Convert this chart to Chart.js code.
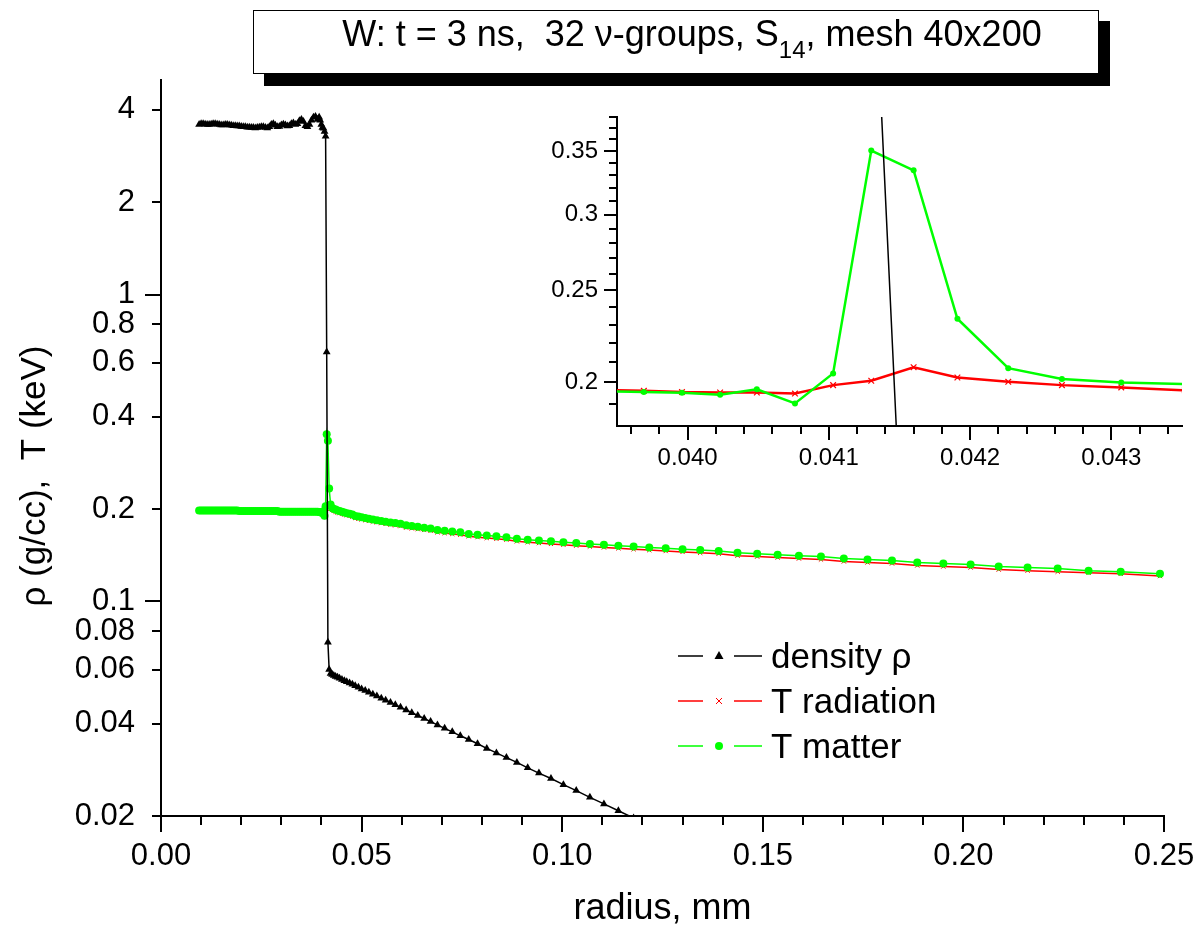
<!DOCTYPE html>
<html>
<head>
<meta charset="utf-8">
<style>
  html, body { margin: 0; padding: 0; background: #fff; }
  #wrap { position: relative; width: 1199px; height: 932px; }
  #mainChart { position: absolute; left: 0; top: 0; }
  #insetChart { position: absolute; left: 540px; top: 100px; }
</style>
</head>
<body>
<div id="wrap">
  <canvas id="mainChart" width="1199" height="932"></canvas>
  <canvas id="insetChart" width="659" height="380"></canvas>
</div>
<script src="https://cdn.jsdelivr.net/npm/chart.js"></script>
<script>
// radial mesh (mm)
const radius = [
  0.0095, 0.0100, 0.0105, 0.0110, 0.0115, 0.0120, 0.0125, 0.0130, 0.0135, 0.0140,
  0.0145, 0.0150, 0.0155, 0.0160, 0.0165, 0.0170, 0.0175, 0.0180, 0.0185, 0.0190,
  0.0195, 0.0200, 0.0205, 0.0210, 0.0215, 0.0220, 0.0225, 0.0230, 0.0235, 0.0240,
  0.0245, 0.0250, 0.0255, 0.0260, 0.0265, 0.0270, 0.0275, 0.0280, 0.0285, 0.0290,
  0.0295, 0.0300, 0.0305, 0.0310, 0.0315, 0.0320, 0.0325, 0.0330, 0.0335, 0.0340,
  0.0345, 0.0350, 0.0355, 0.0360, 0.0365, 0.0370, 0.0375, 0.0380, 0.0385, 0.0390,
  0.03942, 0.03969, 0.03996, 0.04023, 0.04049, 0.04076, 0.04103, 0.04130, 0.04160, 0.04191,
  0.04227, 0.04265, 0.04307, 0.04352,
  0.0440, 0.0445, 0.0451, 0.0457, 0.0463, 0.0470, 0.0477, 0.0484, 0.0492, 0.0500,
  0.0509, 0.0518, 0.0528, 0.0538, 0.0549, 0.0560, 0.0572, 0.0584, 0.0597, 0.0611,
  0.0625, 0.0640, 0.0656, 0.0672, 0.0689, 0.0707, 0.0726, 0.0746, 0.0767, 0.0789,
  0.0812, 0.0836, 0.0861, 0.0887, 0.0914, 0.0942, 0.0972, 0.1003, 0.1035, 0.1069,
  0.1104, 0.1140, 0.1178,
  0.1217, 0.1258, 0.1300, 0.1344, 0.1390, 0.1437, 0.1486, 0.1537, 0.1590, 0.1645,
  0.1702, 0.1761, 0.1822, 0.1885, 0.1950, 0.2018, 0.2088, 0.2160, 0.2235, 0.2312,
  0.2392, 0.2490
];

// density (g/cc) - stops where it leaves the axis at 0.02
const density = [
  3.58, 3.60, 3.60, 3.59, 3.58, 3.58, 3.59, 3.60, 3.60, 3.59,
  3.58, 3.57, 3.57, 3.58, 3.58, 3.57, 3.56, 3.55, 3.55, 3.54,
  3.54, 3.53, 3.52, 3.52, 3.51, 3.51, 3.50, 3.50, 3.49, 3.50,
  3.51, 3.52, 3.52, 3.50, 3.49, 3.52, 3.58, 3.60, 3.56, 3.52,
  3.53, 3.57, 3.59, 3.57, 3.54, 3.55, 3.60, 3.62, 3.58, 3.60,
  3.68, 3.72, 3.66, 3.55, 3.52, 3.58, 3.70, 3.78, 3.80, 3.72,
  3.78, 3.70, 3.58, 3.50, 3.48, 3.40, 3.28, 0.65, 0.0737, 0.0600,
  0.0582, 0.0578, 0.0574, 0.0570,
  0.0566, 0.0562, 0.0557, 0.0552, 0.0548, 0.0542, 0.0537, 0.0531, 0.0525, 0.0519,
  0.0513, 0.0506, 0.0499, 0.0492, 0.0484, 0.0477, 0.0469, 0.0461, 0.0452, 0.0443,
  0.0434, 0.0425, 0.0416, 0.0406, 0.0396, 0.0386, 0.0376, 0.0365, 0.0355, 0.0344,
  0.0332, 0.0321, 0.0310, 0.0299, 0.0287, 0.0276, 0.0265, 0.0253, 0.0242, 0.0230,
  0.0219, 0.0208, 0.0197
];

// radiation temperature (keV)
const tRadiation = [
  0.197, 0.197, 0.197, 0.197, 0.197, 0.197, 0.197, 0.197, 0.197, 0.197,
  0.197, 0.197, 0.197, 0.197, 0.197, 0.197, 0.197, 0.197, 0.197, 0.197,
  0.197, 0.197, 0.197, 0.197, 0.197, 0.197, 0.197, 0.197, 0.197, 0.197,
  0.197, 0.197, 0.197, 0.197, 0.197, 0.197, 0.197, 0.197, 0.197, 0.197,
  0.196, 0.196, 0.196, 0.196, 0.196, 0.196, 0.196, 0.196, 0.196, 0.196,
  0.196, 0.196, 0.196, 0.196, 0.196, 0.196, 0.196, 0.196, 0.196, 0.196,
  0.1963, 0.1960, 0.1954, 0.1952, 0.1952, 0.1947, 0.1987, 0.2008, 0.2075, 0.2024,
  0.2003, 0.1987, 0.1976, 0.1962,
  0.195, 0.194, 0.193, 0.192, 0.191, 0.190, 0.189, 0.187, 0.186, 0.185,
  0.184, 0.183, 0.182, 0.181, 0.180, 0.179, 0.178, 0.177, 0.176, 0.174,
  0.173, 0.172, 0.171, 0.170, 0.168, 0.167, 0.166, 0.165, 0.163, 0.162,
  0.161, 0.160, 0.159, 0.157, 0.156, 0.155, 0.154, 0.153, 0.152, 0.151,
  0.150, 0.149, 0.148,
  0.147, 0.146, 0.145, 0.144, 0.143, 0.141, 0.140, 0.139, 0.138, 0.137,
  0.135, 0.134, 0.133, 0.131, 0.130, 0.129, 0.127, 0.126, 0.125, 0.124,
  0.123, 0.121
];

// matter temperature (keV)
const tMatter = [
  0.198, 0.198, 0.198, 0.198, 0.198, 0.198, 0.198, 0.198, 0.198, 0.198,
  0.198, 0.198, 0.198, 0.198, 0.198, 0.198, 0.198, 0.198, 0.198, 0.198,
  0.197, 0.197, 0.197, 0.197, 0.197, 0.197, 0.197, 0.197, 0.197, 0.197,
  0.197, 0.197, 0.197, 0.197, 0.197, 0.197, 0.197, 0.197, 0.197, 0.197,
  0.196, 0.196, 0.196, 0.196, 0.196, 0.196, 0.196, 0.196, 0.196, 0.196,
  0.196, 0.196, 0.196, 0.196, 0.196, 0.196, 0.196, 0.196, 0.196, 0.196,
  0.1958, 0.1954, 0.1951, 0.1941, 0.1967, 0.1901, 0.2044, 0.3504, 0.3340, 0.2333,
  0.2070, 0.2017, 0.2000, 0.1992,
  0.198, 0.197, 0.196, 0.195, 0.194, 0.193, 0.192, 0.190, 0.189, 0.188,
  0.187, 0.186, 0.185, 0.184, 0.183, 0.182, 0.181, 0.180, 0.179, 0.177,
  0.176, 0.175, 0.174, 0.173, 0.171, 0.170, 0.169, 0.168, 0.166, 0.165,
  0.164, 0.163, 0.162, 0.160, 0.159, 0.158, 0.157, 0.156, 0.155, 0.154,
  0.153, 0.152, 0.151,
  0.150, 0.149, 0.148, 0.147, 0.146, 0.144, 0.143, 0.142, 0.141, 0.140,
  0.138, 0.137, 0.136, 0.134, 0.133, 0.132, 0.130, 0.129, 0.128, 0.126,
  0.125, 0.123
];

// axis ticks
const xTickValues = [0, 0.05, 0.10, 0.15, 0.20, 0.25];
const xMinorTicks = [0.01, 0.02, 0.03, 0.04, 0.06, 0.07, 0.08, 0.09, 0.11, 0.12,
                     0.13, 0.14, 0.16, 0.17, 0.18, 0.19, 0.21, 0.22, 0.23, 0.24];
const yTickValues = [0.02, 0.04, 0.06, 0.08, 0.1, 0.2, 0.4, 0.6, 0.8, 1, 2, 4];
const yMajorMarks = [0.1, 1];
const yMinorMarks = [0.02, 0.04, 0.06, 0.08, 0.2, 0.4, 0.6, 0.8, 2, 4];

const insetXTickValues = [0.040, 0.041, 0.042, 0.043];
const insetXMinor = [0.0396, 0.0398, 0.0402, 0.0404, 0.0406, 0.0408, 0.0412, 0.0414,
                     0.0416, 0.0418, 0.0422, 0.0424, 0.0426, 0.0428, 0.0432, 0.0434];
const insetYTickValues = [0.2, 0.25, 0.3, 0.35];
const insetYMinor = [0.19, 0.21, 0.22, 0.23, 0.24, 0.26, 0.27, 0.28, 0.29, 0.31,
                     0.32, 0.33, 0.34, 0.36, 0.37, 0.38];

const FONT = '"Liberation Sans", Arial, sans-serif';

function series(ys) {
  return ys.map((y, i) => ({ x: radius[i], y: y }));
}

// chart.js reserves room for edge labels; the frame here is fixed
function noEdgePad(s) {
  s.paddingLeft = 0; s.paddingRight = 0;
  s.paddingTop = 0; s.paddingBottom = 0;
}

// outward tick marks, long for major, short for minor
const tickMarks = {
  id: 'tickMarks',
  afterDraw(chart, args, opts) {
    const ctx = chart.ctx;
    ctx.save();
    ctx.strokeStyle = '#000';
    ctx.lineWidth = opts.width;
    opts.axes.forEach(a => {
      const s = chart.scales[a.id];
      const mark = (v, len) => {
        const p = Math.round(s.getPixelForValue(v));
        ctx.beginPath();
        if (s.isHorizontal()) {
          ctx.moveTo(p, s.top);
          ctx.lineTo(p, s.top + len);
        } else {
          ctx.moveTo(s.right, p);
          ctx.lineTo(s.right - len, p);
        }
        ctx.stroke();
      };
      a.major.forEach(v => mark(v, a.majorLen));
      a.minor.forEach(v => mark(v, a.minorLen));
    });
    ctx.restore();
  }
};

function drawMarker(ctx, style, x, y, color) {
  ctx.fillStyle = color;
  ctx.strokeStyle = color;
  ctx.beginPath();
  if (style === 'triangle') {
    ctx.moveTo(x, y - 5);
    ctx.lineTo(x + 4.5, y + 3);
    ctx.lineTo(x - 4.5, y + 3);
    ctx.closePath();
    ctx.fill();
  } else if (style === 'crossRot') {
    ctx.lineWidth = 1;
    ctx.moveTo(x - 3, y - 3); ctx.lineTo(x + 3, y + 3);
    ctx.moveTo(x + 3, y - 3); ctx.lineTo(x - 3, y + 3);
    ctx.stroke();
  } else {
    ctx.arc(x, y, 4, 0, Math.PI * 2);
    ctx.fill();
  }
}

// title box, y title and legend
const decor = {
  id: 'decor',
  afterDraw(chart) {
    const ctx = chart.ctx;
    ctx.save();

    ctx.fillStyle = '#000';
    ctx.fillRect(264, 21, 846, 65);
    ctx.fillStyle = '#fff';
    ctx.fillRect(253, 10, 846, 64);
    ctx.strokeStyle = '#000';
    ctx.lineWidth = 1;
    ctx.strokeRect(253.5, 10.5, 845, 63);

    const big = '36px ' + FONT;
    const small = '24px ' + FONT;
    const p1 = 'W: t = 3 ns,  32 \u03BD-groups, S', sub = '14', p2 = ', mesh 40x200';
    ctx.font = big;
    const w1 = ctx.measureText(p1).width, w3 = ctx.measureText(p2).width;
    ctx.font = small;
    const w2 = ctx.measureText(sub).width;
    let tx = 692 - (w1 + w2 + w3) / 2;
    const base = 46;
    ctx.fillStyle = '#000';
    ctx.textBaseline = 'alphabetic';
    ctx.textAlign = 'left';
    ctx.font = big; ctx.fillText(p1, tx, base); tx += w1;
    ctx.font = small; ctx.fillText(sub, tx, base + 12); tx += w2;
    ctx.font = big; ctx.fillText(p2, tx, base);

    ctx.save();
    ctx.translate(35, 476);
    ctx.rotate(-Math.PI / 2);
    ctx.font = '35px ' + FONT;
    ctx.textAlign = 'center';
    ctx.textBaseline = 'middle';
    ctx.fillText('\u03C1 (g/cc),  T (keV)', 0, 0);
    ctx.restore();

    const rows = [656, 701, 746];
    const legendOrder = [0, 2, 1];
    legendOrder.forEach((di, k) => {
      const ds = chart.data.datasets[di];
      const y = rows[k];
      ctx.strokeStyle = ds.borderColor;
      ctx.lineWidth = 1.5;
      ctx.beginPath();
      ctx.moveTo(678, y); ctx.lineTo(703, y);
      ctx.moveTo(734, y); ctx.lineTo(762, y);
      ctx.stroke();
      drawMarker(ctx, ds.pointStyle, 719, y, ds.borderColor);
      ctx.fillStyle = '#000';
      ctx.font = '35px ' + FONT;
      ctx.textAlign = 'left';
      ctx.textBaseline = 'alphabetic';
      ctx.fillText(ds.label, 771, y + 12);
    });
    ctx.restore();
  }
};

const mainChart = new Chart(document.getElementById('mainChart'), {
  type: 'line',
  data: {
    datasets: [
      {
        label: 'density \u03C1', data: series(density),
        borderColor: '#000000', backgroundColor: '#000000', borderWidth: 1.5,
        pointStyle: 'triangle', pointRadius: 4.5, pointBorderWidth: 0, order: 0
      },
      {
        label: 'T matter', data: series(tMatter),
        borderColor: '#00ff00', backgroundColor: '#00ff00', borderWidth: 1.5,
        pointStyle: 'circle', pointRadius: 4, pointBorderWidth: 0, order: 1
      },
      {
        label: 'T radiation', data: series(tRadiation),
        borderColor: '#ff0000', backgroundColor: '#ff0000', borderWidth: 1.5,
        pointStyle: 'crossRot', pointRadius: 3, pointBorderWidth: 1, order: 2
      }
    ]
  },
  options: {
    responsive: false,
    animation: false,
    layout: { padding: { top: 80, right: 35, left: 0, bottom: 0 } },
    plugins: {
      legend: { display: false },
      tooltip: { enabled: false },
      tickMarks: {
        width: 2,
        axes: [
          { id: 'x', major: xTickValues, minor: xMinorTicks, majorLen: 16, minorLen: 9 },
          { id: 'y', major: yMajorMarks, minor: yMinorMarks, majorLen: 16, minorLen: 9 }
        ]
      }
    },
    scales: {
      x: {
        type: 'linear', min: 0, max: 0.25,
        afterFit: s => { s.height = 116; noEdgePad(s); },
        afterBuildTicks: s => { s.ticks = xTickValues.map(v => ({ value: v })); },
        grid: { display: false, drawTicks: false },
        border: { display: true, color: '#000', width: 2 },
        ticks: {
          autoSkip: false, maxRotation: 0, padding: 22, color: '#000',
          font: { family: FONT, size: 31 },
          callback: v => v.toFixed(2)
        },
        title: {
          display: true, text: 'radius, mm', color: '#000',
          font: { family: FONT, size: 36 }, padding: { top: 0, bottom: 1 }
        }
      },
      y: {
        type: 'logarithmic', min: 0.02, max: 5,
        afterFit: s => { s.width = 161; noEdgePad(s); },
        afterBuildTicks: s => { s.ticks = yTickValues.map(v => ({ value: v })); },
        grid: { display: false, drawTicks: false },
        border: { display: true, color: '#000', width: 2 },
        ticks: {
          autoSkip: false, padding: 26, color: '#000',
          font: { family: FONT, size: 31 },
          callback: v => String(v)
        }
      }
    }
  },
  plugins: [tickMarks, decor]
});

const insetChart = new Chart(document.getElementById('insetChart'), {
  type: 'line',
  data: {
    datasets: [
      {
        label: 'density \u03C1', data: series(density),
        borderColor: '#000000', borderWidth: 1.5, pointRadius: 0, order: 0
      },
      {
        label: 'T matter', data: series(tMatter),
        borderColor: '#00ff00', backgroundColor: '#00ff00', borderWidth: 2.5,
        pointStyle: 'circle', pointRadius: 3, pointBorderWidth: 0, order: 1
      },
      {
        label: 'T radiation', data: series(tRadiation),
        borderColor: '#ff0000', backgroundColor: '#ff0000', borderWidth: 2.5,
        pointStyle: 'crossRot', pointRadius: 4, pointBorderWidth: 1.2, order: 2
      }
    ]
  },
  options: {
    responsive: false,
    animation: false,
    layout: { padding: { top: 17, right: 17, left: 0, bottom: 0 } },
    plugins: {
      legend: { display: false },
      tooltip: { enabled: false },
      tickMarks: {
        width: 2,
        axes: [
          { id: 'x', major: insetXTickValues, minor: insetXMinor, majorLen: 14, minorLen: 8 },
          { id: 'y', major: insetYTickValues, minor: insetYMinor, majorLen: 13, minorLen: 8 }
        ]
      }
    },
    scales: {
      x: {
        type: 'linear', min: 0.0395, max: 0.0435,
        afterFit: s => { s.height = 54; noEdgePad(s); },
        afterBuildTicks: s => { s.ticks = insetXTickValues.map(v => ({ value: v })); },
        grid: { display: false, drawTicks: false },
        border: { display: true, color: '#000', width: 2 },
        ticks: {
          autoSkip: false, maxRotation: 0, padding: 18, color: '#000',
          font: { family: FONT, size: 24 },
          callback: v => v.toFixed(3)
        }
      },
      y: {
        type: 'logarithmic', min: 0.18, max: 0.38,
        afterFit: s => { s.width = 77; noEdgePad(s); },
        afterBuildTicks: s => { s.ticks = insetYTickValues.map(v => ({ value: v })); },
        grid: { display: false, drawTicks: false },
        border: { display: true, color: '#000', width: 2 },
        ticks: {
          autoSkip: false, padding: 19, color: '#000',
          font: { family: FONT, size: 24 },
          callback: v => String(v)
        }
      }
    }
  },
  plugins: [tickMarks]
});
</script>
</body>
</html>
